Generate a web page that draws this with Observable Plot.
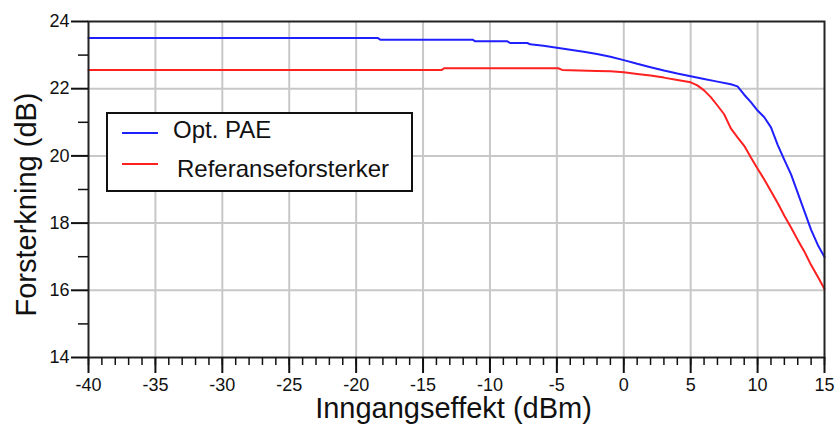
<!DOCTYPE html>
<html>
<head>
<meta charset="utf-8">
<script src="https://cdn.jsdelivr.net/npm/d3@7"></script>
<script src="https://cdn.jsdelivr.net/npm/@observablehq/plot@0.6"></script>
<style>
  html, body { margin: 0; padding: 0; background: #fff; }
  #wrap { position: relative; width: 835px; height: 426px; font-family: "Liberation Sans", Arial, sans-serif; }
  #legend { position: absolute; left: 106px; top: 112px; width: 303px; height: 76px; border: 2px solid #111; background: #fff; }
</style>
</head>
<body>
<div id="wrap"></div>
<script>
// ---- data ----
const seriesNames = ["Opt. PAE", "Referanseforsterker"];
const seriesColors = ["#1f1fff", "#ff2020"];

const paeInput = [-40, -30, -20, -18.4, -18.2, -15, -11.3, -11.1, -8.7, -8.5, -7.2, -7, -6, -5, -4, -3, -2, -1, 0, 1, 2, 3, 4, 5, 6, 7, 8, 8.5, 9, 9.5, 10, 10.5, 11, 11.5, 12, 12.5, 13, 13.5, 14, 14.5, 15];
const paeGain  = [23.51, 23.51, 23.51, 23.51, 23.46, 23.46, 23.46, 23.41, 23.41, 23.36, 23.36, 23.32, 23.28, 23.22, 23.16, 23.1, 23.03, 22.95, 22.85, 22.74, 22.64, 22.54, 22.45, 22.37, 22.29, 22.21, 22.13, 22.07, 21.82, 21.6, 21.35, 21.15, 20.85, 20.33, 19.88, 19.45, 18.9, 18.35, 17.8, 17.35, 16.99];

const refInput = [-40, -30, -20, -13.6, -13.4, -10, -4.9, -4.6, -4, -2, -1, 0, 1, 2, 3, 4, 5, 5.5, 6, 6.5, 7, 7.5, 8, 8.5, 9, 9.5, 10, 10.5, 11, 11.5, 12, 12.5, 13, 13.5, 14, 14.5, 15];
const refGain  = [22.56, 22.56, 22.56, 22.56, 22.61, 22.61, 22.61, 22.56, 22.55, 22.53, 22.52, 22.49, 22.44, 22.39, 22.33, 22.26, 22.19, 22.1, 21.95, 21.75, 21.5, 21.24, 20.82, 20.55, 20.3, 19.95, 19.62, 19.3, 18.95, 18.6, 18.22, 17.87, 17.5, 17.15, 16.75, 16.4, 16.04];

const xMajorTicks = [-40, -35, -30, -25, -20, -15, -10, -5, 0, 5, 10, 15];
const xMinorTicks = d3.range(-40, 16, 1);
const yMajorTicks = [14, 16, 18, 20, 22, 24];
const yMinorTicks = [15, 17, 19, 21, 23];
const xTitle = "Inngangseffekt (dBm)";
const yTitle = "Forsterkning (dB)";

const pae = paeInput.map((x, i) => ({input: x, gain: paeGain[i]}));
const ref = refInput.map((x, i) => ({input: x, gain: refGain[i]}));
const gridX = xMajorTicks.filter(d => d > -40 && d < 15);
const gridY = yMajorTicks.filter(d => d > 14 && d < 24);

const chart = Plot.plot({
  width: 835,
  height: 426,
  marginLeft: 88,
  marginRight: 11,
  marginTop: 21,
  marginBottom: 69,
  style: {fontFamily: "'Liberation Sans', Arial, sans-serif", background: "#fff", color: "#111", overflow: "visible"},
  x: {domain: [-40, 15]},
  y: {domain: [14, 24]},
  marks: [
    Plot.gridX(gridX, {stroke: "#c8c8c8", strokeOpacity: 1, strokeWidth: 2}),
    Plot.gridY(gridY, {stroke: "#c8c8c8", strokeOpacity: 1, strokeWidth: 2}),
    Plot.line(pae, {x: "input", y: "gain", stroke: seriesColors[0], strokeWidth: 2}),
    Plot.line(ref, {x: "input", y: "gain", stroke: seriesColors[1], strokeWidth: 2}),
    Plot.frame({stroke: "#222", strokeWidth: 2}),
    Plot.axisX(xMinorTicks, {tickSize: 8, tickFormat: () => "", label: null, strokeWidth: 1.5}),
    Plot.axisX(xMajorTicks, {tickSize: 16, tickPadding: 5, fontSize: 18, tickFormat: d => String(d), label: null, strokeWidth: 2}),
    Plot.axisY(yMinorTicks, {tickSize: 10, tickFormat: () => "", label: null, strokeWidth: 1.5}),
    Plot.axisY(yMajorTicks, {tickSize: 17, tickPadding: 2, fontSize: 18, tickFormat: d => String(d), label: null, strokeWidth: 2}),
    Plot.text([xTitle], {text: d => d, frameAnchor: "bottom", textAnchor: "middle", lineAnchor: "middle", dx: -3, dy: 51, fontSize: 29, fill: "#111"}),
    Plot.text([yTitle], {text: d => d, frameAnchor: "left", textAnchor: "middle", lineAnchor: "middle", rotate: -90, dx: -62, dy: 15, fontSize: 29, fill: "#111"})
  ]
});

const wrap = document.getElementById("wrap");
wrap.appendChild(chart);

// legend overlay
const legend = document.createElement("div");
legend.id = "legend";
const ns = "http://www.w3.org/2000/svg";
const lsvg = document.createElementNS(ns, "svg");
lsvg.setAttribute("width", 303);
lsvg.setAttribute("height", 76);
const rows = [{y: 19, ty: 24}, {y: 50, ty: 63}];
seriesNames.forEach((name, i) => {
  const ln = document.createElementNS(ns, "line");
  ln.setAttribute("x1", 14); ln.setAttribute("x2", 50);
  ln.setAttribute("y1", rows[i].y); ln.setAttribute("y2", rows[i].y);
  ln.setAttribute("stroke", seriesColors[i]); ln.setAttribute("stroke-width", 2);
  lsvg.appendChild(ln);
  const t = document.createElementNS(ns, "text");
  t.setAttribute("x", i === 0 ? 65 : 69);
  t.setAttribute("y", rows[i].ty);
  t.setAttribute("font-size", 24);
  t.setAttribute("font-family", "'Liberation Sans', Arial, sans-serif");
  t.setAttribute("fill", "#111");
  t.textContent = name;
  lsvg.appendChild(t);
});
legend.appendChild(lsvg);
wrap.appendChild(legend);
</script>
</body>
</html>
